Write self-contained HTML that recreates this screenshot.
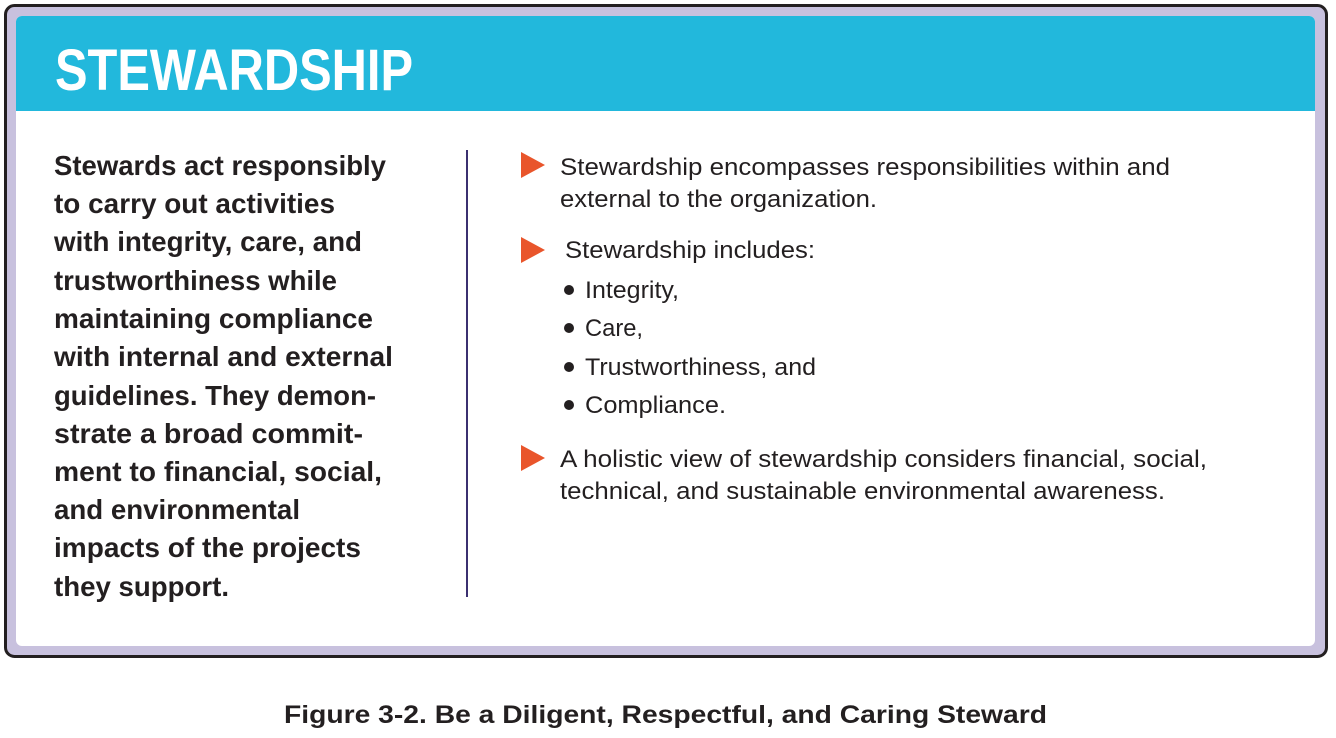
<!DOCTYPE html>
<html><head><meta charset="utf-8"><style>
html,body{margin:0;padding:0;background:#fff;width:1336px;height:738px;overflow:hidden}
svg{display:block}
text{font-family:"Liberation Sans",sans-serif;fill:#231f20}
.l{font-weight:bold;font-size:28px}
.r{font-size:24px}
</style></head><body>
<svg width="1336" height="738" viewBox="0 0 1336 738">
<rect x="5.5" y="5.5" width="1321" height="651" rx="9" fill="#c8c1de" stroke="#231f20" stroke-width="3"/>
<path d="M22,16 H1309 a6,6 0 0 1 6,6 V640 a6,6 0 0 1 -6,6 H22 a6,6 0 0 1 -6,-6 V22 a6,6 0 0 1 6,-6z" fill="#fff"/>
<path d="M22,16 H1309 a6,6 0 0 1 6,6 V111 H16 V22 a6,6 0 0 1 6,-6z" fill="#22b8dc"/>
<text x="55" y="90" style="font-weight:bold;font-size:58px;fill:#fff" textLength="358" lengthAdjust="spacingAndGlyphs">STEWARDSHIP</text>

<g>
<text class="l" x="54" y="175" textLength="332" lengthAdjust="spacingAndGlyphs">Stewards act responsibly</text>
<text class="l" x="54" y="213" textLength="281" lengthAdjust="spacingAndGlyphs">to carry out activities</text>
<text class="l" x="54" y="251" textLength="308" lengthAdjust="spacingAndGlyphs">with integrity, care, and</text>
<text class="l" x="54" y="290" textLength="283" lengthAdjust="spacingAndGlyphs">trustworthiness while</text>
<text class="l" x="54" y="328" textLength="319" lengthAdjust="spacingAndGlyphs">maintaining compliance</text>
<text class="l" x="54" y="366" textLength="339" lengthAdjust="spacingAndGlyphs">with internal and external</text>
<text class="l" x="54" y="405" textLength="322" lengthAdjust="spacingAndGlyphs">guidelines. They demon-</text>
<text class="l" x="54" y="443" textLength="309" lengthAdjust="spacingAndGlyphs">strate a broad commit-</text>
<text class="l" x="54" y="481" textLength="328" lengthAdjust="spacingAndGlyphs">ment to financial, social,</text>
<text class="l" x="54" y="519" textLength="246" lengthAdjust="spacingAndGlyphs">and environmental</text>
<text class="l" x="54" y="557" textLength="307" lengthAdjust="spacingAndGlyphs">impacts of the projects</text>
<text class="l" x="54" y="596" textLength="175" lengthAdjust="spacingAndGlyphs">they support.</text>
</g>

<rect x="466" y="150" width="2" height="447" fill="#3b3070"/>

<g>
<polygon points="521,152 545,165 521,178" fill="#e9552b"/>
<text class="r" x="560" y="175" textLength="610" lengthAdjust="spacingAndGlyphs">Stewardship encompasses responsibilities within and</text>
<text class="r" x="560" y="207" textLength="317" lengthAdjust="spacingAndGlyphs">external to the organization.</text>
<polygon points="521,237 545,250 521,263" fill="#e9552b"/>
<text class="r" x="565" y="258" textLength="250" lengthAdjust="spacingAndGlyphs">Stewardship includes:</text>
<circle cx="569" cy="290" r="5" fill="#231f20"/>
<text class="r" x="585" y="298" textLength="94" lengthAdjust="spacingAndGlyphs">Integrity,</text>
<circle cx="569" cy="328" r="5" fill="#231f20"/>
<text class="r" x="585" y="336" textLength="58" lengthAdjust="spacingAndGlyphs">Care,</text>
<circle cx="569" cy="367" r="5" fill="#231f20"/>
<text class="r" x="585" y="375" textLength="231" lengthAdjust="spacingAndGlyphs">Trustworthiness, and</text>
<circle cx="569" cy="405" r="5" fill="#231f20"/>
<text class="r" x="585" y="413" textLength="141" lengthAdjust="spacingAndGlyphs">Compliance.</text>
<polygon points="521,445 545,458 521,471" fill="#e9552b"/>
<text class="r" x="560" y="467" textLength="647" lengthAdjust="spacingAndGlyphs">A holistic view of stewardship considers financial, social,</text>
<text class="r" x="560" y="499" textLength="605" lengthAdjust="spacingAndGlyphs">technical, and sustainable environmental awareness.</text>
</g>

<text x="284" y="723" style="font-weight:bold;font-size:25px" textLength="763" lengthAdjust="spacingAndGlyphs">Figure 3-2. Be a Diligent, Respectful, and Caring Steward</text>
</svg>
</body></html>
